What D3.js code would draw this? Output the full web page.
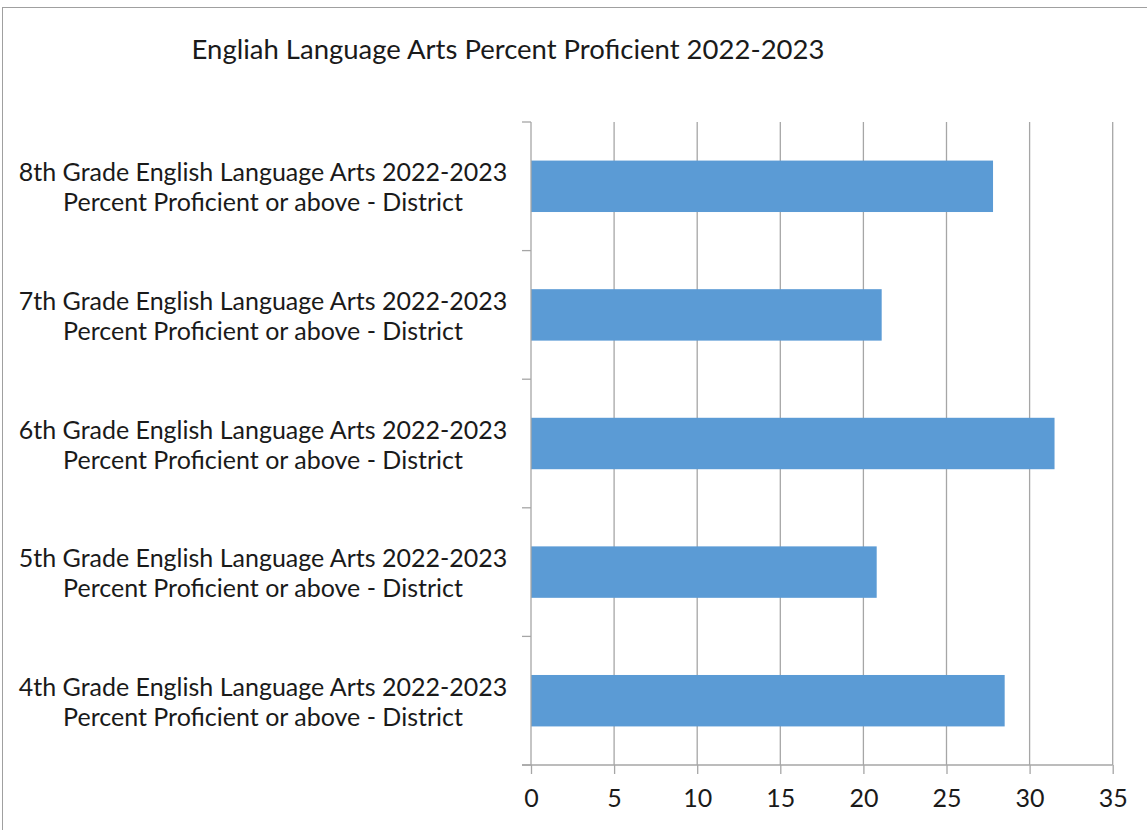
<!DOCTYPE html>
<html>
<head>
<meta charset="utf-8">
<script src="https://cdn.jsdelivr.net/npm/d3@7"></script>
<style>
  body { margin: 0; background: #fff; }
  svg { display: block; }
  text { font-family: Lato, "Open Sans", sans-serif; fill: #1a1a1a; }
</style>
</head>
<body>
<svg id="chart" width="1147" height="830"></svg>
<script>
const title = "Engliah Language Arts Percent Proficient 2022-2023";
const categories = [
  "4th Grade English Language Arts 2022-2023|Percent Proficient or above - District",
  "5th Grade English Language Arts 2022-2023|Percent Proficient or above - District",
  "6th Grade English Language Arts 2022-2023|Percent Proficient or above - District",
  "7th Grade English Language Arts 2022-2023|Percent Proficient or above - District",
  "8th Grade English Language Arts 2022-2023|Percent Proficient or above - District"
];
const values = [28.5, 20.8, 31.5, 21.1, 27.8];
const xTicks = [0, 5, 10, 15, 20, 25, 30, 35];

(function () {
const svg = d3.select("#chart");
const pLeft = 531, pRight = 1112.7, pTop = 122, pBottom = 765;
const gridColor = "#a6a6a6";

// outer chart border
svg.append("rect").attr("x", 2.5).attr("y", 7.5).attr("width", 1300).attr("height", 1000)
  .attr("fill", "none").attr("stroke", "#a0a0a0").attr("stroke-width", 1);

svg.append("text").attr("x", 508).attr("y", 59).attr("text-anchor", "middle")
  .attr("font-size", 27.5).text(title);

const x = d3.scaleLinear().domain([0, 35]).range([pLeft, pRight]);
const y = d3.scaleBand().domain(categories.slice().reverse()).range([pTop, pBottom])
  .paddingInner(0.6).paddingOuter(0.3);

// gridlines
svg.append("g").selectAll("line").data(xTicks.slice(1)).join("line")
  .attr("x1", d => x(d)).attr("x2", d => x(d)).attr("y1", pTop).attr("y2", pBottom)
  .attr("stroke", gridColor).attr("stroke-width", 1.3);

// bars
svg.append("g").selectAll("rect").data(categories).join("rect")
  .attr("x", x(0)).attr("y", d => y(d))
  .attr("width", (d, i) => x(values[i]) - x(0)).attr("height", y.bandwidth())
  .attr("fill", "#5b9bd5");

// x axis
const xAxis = svg.append("g").attr("transform", `translate(0,${pBottom})`)
  .call(d3.axisBottom(x).tickValues(xTicks).tickSize(9).tickPadding(15));
xAxis.select(".domain").remove();
xAxis.selectAll(".tick line").attr("stroke", gridColor).attr("stroke-width", 1.3);
xAxis.selectAll(".tick text").attr("font-size", 25).attr("font-family", "Lato, sans-serif").attr("fill", "#1a1a1a");
svg.append("line").attr("x1", pLeft - 9).attr("x2", pRight).attr("y1", pBottom).attr("y2", pBottom)
  .attr("stroke", gridColor).attr("stroke-width", 1.3);

// y axis line and category boundary ticks
svg.append("line").attr("x1", pLeft).attr("x2", pLeft).attr("y1", pTop).attr("y2", pBottom)
  .attr("stroke", gridColor).attr("stroke-width", 1.3);
const step = y.step();
const boundaryY = d3.range(categories.length + 1).map(i => pTop + i * step);
svg.append("g").selectAll("line").data(boundaryY).join("line")
  .attr("x1", pLeft - 9).attr("x2", pLeft).attr("y1", d => d).attr("y2", d => d)
  .attr("stroke", gridColor).attr("stroke-width", 1.3);

// category labels
const lab = svg.append("g").selectAll("text").data(categories).join("text")
  .attr("text-anchor", "middle").attr("font-size", 25)
  .attr("transform", d => `translate(263,${y(d) + y.bandwidth() / 2})`);
lab.selectAll("tspan").data(d => d.split("|")).join("tspan")
  .attr("x", 0).attr("y", (d, i) => i === 0 ? -5 : 25).text(d => d);
})();
</script>
</body>
</html>
